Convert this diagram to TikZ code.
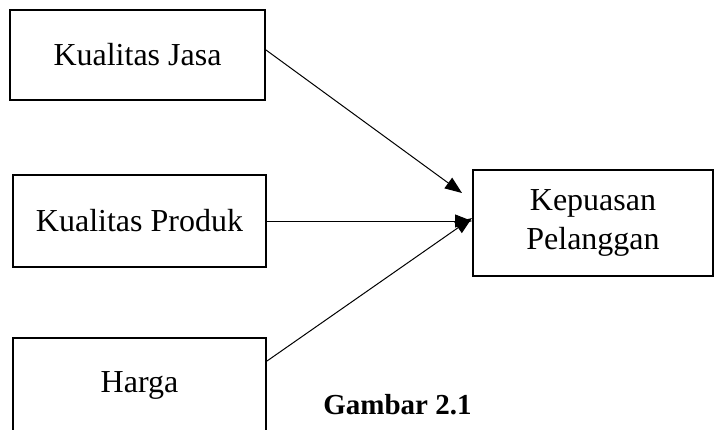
\documentclass[tikz,border=0pt]{standalone}
\usepackage{fontspec}
\setmainfont{Liberation Serif}
\usepackage{tikz}
\usetikzlibrary{arrows.meta,positioning,calc}

\begin{document}
\begin{tikzpicture}[
    x=1pt, y=-1pt,
    box/.style={rectangle, draw, line width=2pt, align=center, inner sep=0pt, font=\fontsize{32}{38.5}\selectfont},
    arrow/.style={-{Triangle[length=17pt,width=13pt]}, line width=1pt},
    caption/.style={font=\fontsize{29}{34}\selectfont\bfseries}
]
    \useasboundingbox (0,0) rectangle (714,429);

    \node[box, minimum width=255pt, minimum height=90pt] (jasa) at (137.5,55) {Kualitas Jasa};
    \node[box, minimum width=253pt, minimum height=92pt] (produk) at (139.5,221) {Kualitas Produk};
    \node[box, minimum width=253pt, minimum height=94pt] (harga) at (139.5,385) {Harga};
    \node[box, minimum width=240pt, minimum height=106pt] (kepuasan) at (593,223) {Kepuasan\\Pelanggan};
    \node[caption] (gambar) at (397.5,405) {Gambar 2.1};

    \coordinate (tip) at (462,193);

    \draw[arrow] ($(jasa.east)+(0,-5)$) -- (tip);
    \draw[arrow] (produk.east) -- (produk.east -| kepuasan.west);
    \draw[arrow] ($(harga.north east)+(0,24)$) -- ($(kepuasan.west)+(0,-5)$);
\end{tikzpicture}
\end{document}
